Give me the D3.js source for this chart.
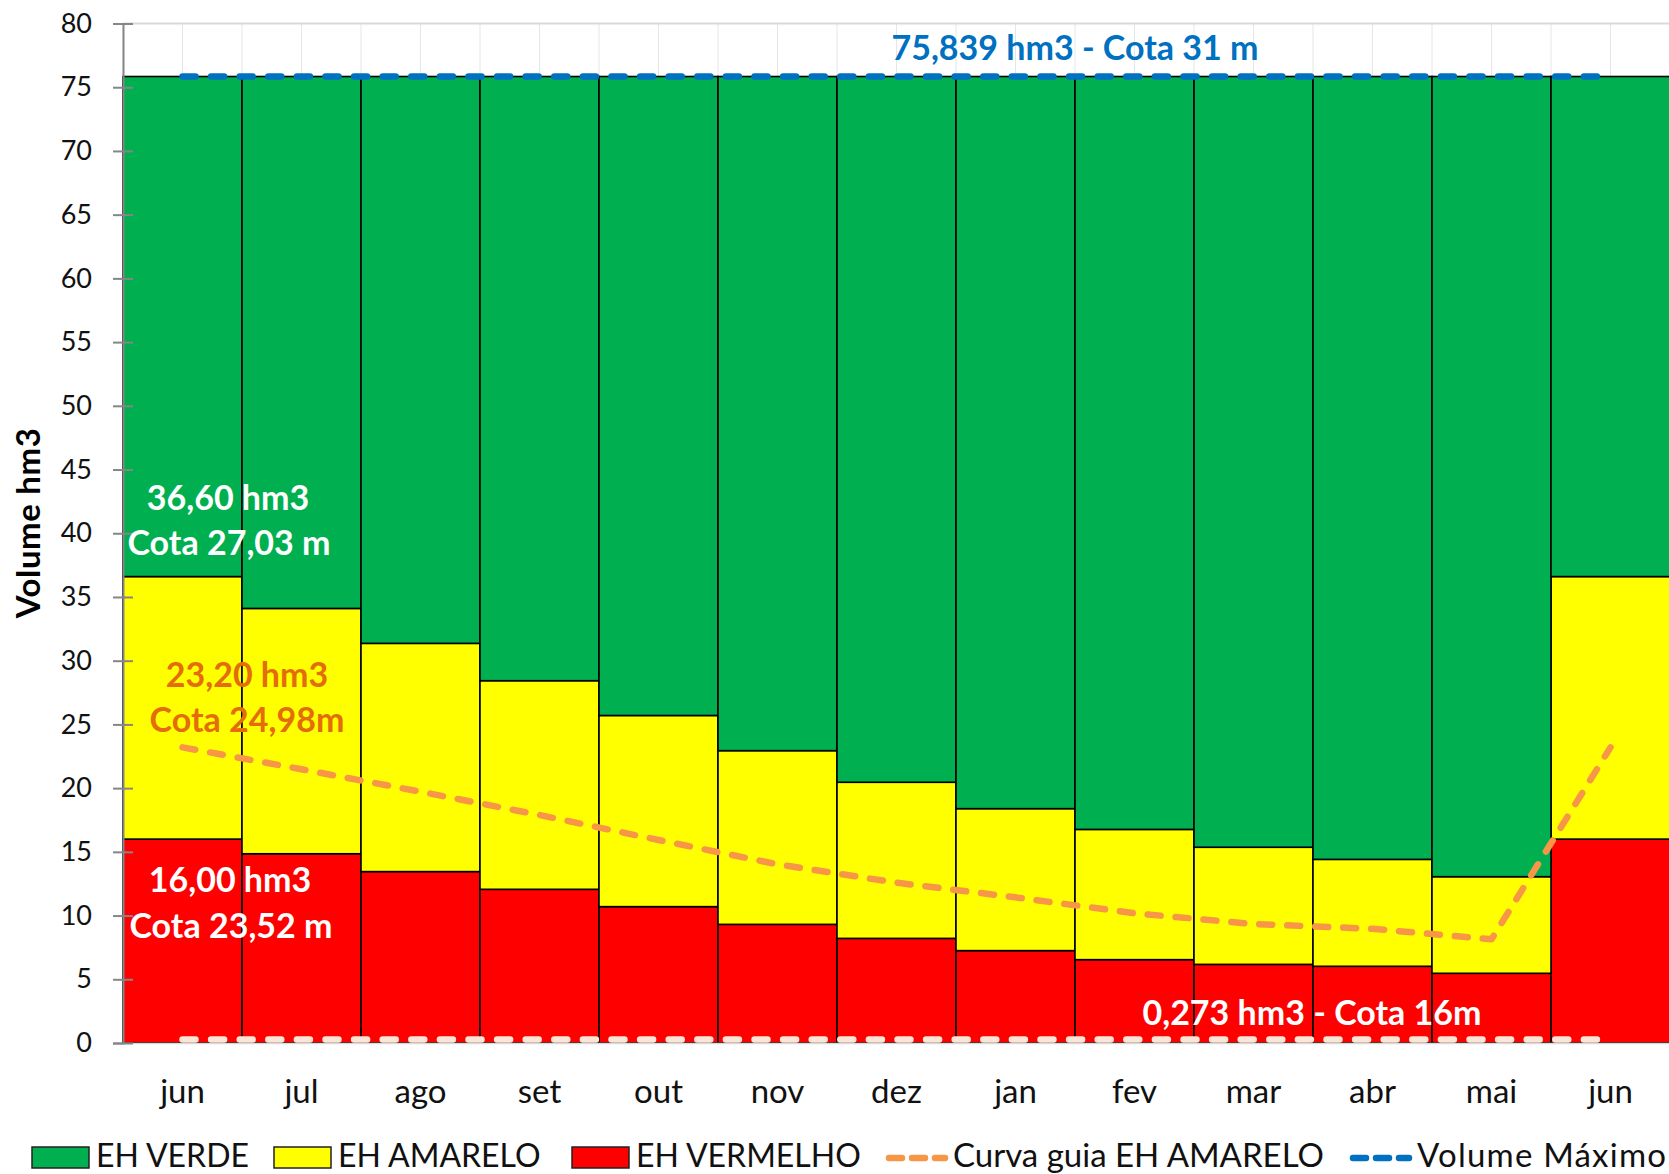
<!DOCTYPE html>
<html>
<head>
<meta charset="utf-8">
<script src="https://cdn.jsdelivr.net/npm/d3@7"></script>
<style>
  body{margin:0;background:#fff;}
  svg{display:block;font-family:Lato,'Open Sans',sans-serif;}
</style>
</head>
<body>
<svg id="chart" width="1669" height="1174"></svg>
<script>
// valores (hm3)
const meses = ['jun','jul','ago','set','out','nov','dez','jan','fev','mar','abr','mai','jun'];
const ehVermelho = [16.00, 14.85, 13.45, 12.06, 10.70, 9.31, 8.21, 7.25, 6.54, 6.17, 6.02, 5.47, 16.00];
const ehAmarelo  = [20.60, 19.25, 17.91, 16.37, 15.00, 13.63, 12.25, 11.14, 10.22, 9.19, 8.39, 7.58, 20.60];
const ehVerde    = [39.24, 41.74, 44.48, 47.41, 50.14, 52.90, 55.38, 57.45, 59.08, 60.48, 61.43, 62.79, 39.24];
const curvaGuia  = [23.20, 21.48, 19.72, 17.89, 15.93, 14.02, 12.58, 11.43, 10.18, 9.34, 8.96, 8.14, 23.20];
const volumeMaximo = 75.839;
const volumeMinimo = 0.273;
const yTicks = [0,5,10,15,20,25,30,35,40,45,50,55,60,65,70,75,80];

const cores = {verde:'#00B050', amarelo:'#FFFF00', vermelho:'#FF0000', curva:'#F79646', maximo:'#0070C0', minimo:'#FBE5D6'};

const svg = d3.select('#chart');
const margem = {esq:123, dir:1670, topo:23.5, base:1043};

let tabela = meses.map((m,i) => ({i:i, vermelho:ehVermelho[i], amarelo:ehAmarelo[i], verde:ehVerde[i]}));

let x = d3.scaleBand().domain(d3.range(meses.length)).range([margem.esq,margem.dir]).padding(0);
let y = d3.scaleLinear().domain([0,80]).range([margem.base,margem.topo]);
let bw = x.bandwidth();
let cx = i => x(i) + bw/2;

svg.append('rect').attr('width',1669).attr('height',1174).attr('fill','#fff');

// grade
let grade = svg.append('g');
grade.selectAll('line.v')
    .data(d3.range(meses.length*2))
    .enter().append('line')
    .attr('x1', k => margem.esq + k*bw/2).attr('x2', k => margem.esq + k*bw/2)
    .attr('y1', y(80)).attr('y2', margem.base)
    .attr('stroke','#e6e6e6').attr('stroke-width',1);
grade.append('line')
    .attr('x1',margem.esq).attr('x2',margem.dir).attr('y1',y(80)).attr('y2',y(80))
    .attr('stroke','#d9d9d9').attr('stroke-width',2);

// colunas empilhadas
let pilha = d3.stack().keys(['vermelho','amarelo','verde'])(tabela);
svg.append('g').selectAll('g')
    .data(pilha)
    .enter().append('g')
    .attr('fill', s => cores[s.key])
    .selectAll('rect')
    .data(s => s)
    .enter().append('rect')
    .attr('x', d => x(d.data.i))
    .attr('width', bw)
    .attr('y', d => y(d[1]))
    .attr('height', d => y(d[0]) - y(d[1]))
    .attr('stroke','#000').attr('stroke-width',1.6);

// eixo x
let eixoX = svg.append('g').attr('transform','translate(0,'+margem.base+')')
    .call(d3.axisBottom(x).tickSize(0).tickPadding(0).tickFormat(i => meses[i]));
eixoX.select('.domain').attr('stroke','#d9d9d9').attr('stroke-width',1.5);
eixoX.selectAll('text').attr('font-size',33).attr('fill','#111')
    .attr('font-family','Lato, sans-serif').attr('dy',null).attr('y',59.5);

// linhas de referencia
let ref = d3.line().x(d => cx(d[0])).y(d => y(d[1]));
svg.append('path')
    .datum([[0,volumeMinimo],[meses.length-1,volumeMinimo]])
    .attr('d',ref).attr('fill','none')
    .attr('stroke',cores.minimo).attr('stroke-width',6.5)
    .attr('stroke-linecap','round').attr('stroke-dasharray','13 15.6');
svg.append('path')
    .datum([[0,volumeMaximo],[meses.length-1,volumeMaximo]])
    .attr('d',ref).attr('fill','none')
    .attr('stroke',cores.maximo).attr('stroke-width',6.5)
    .attr('stroke-linecap','round').attr('stroke-dasharray','13 15.6');

// curva guia
let linha = d3.line().x((d,i) => cx(i)).y(d => y(d));
svg.append('path')
    .datum(curvaGuia)
    .attr('d',linha).attr('fill','none')
    .attr('stroke',cores.curva).attr('stroke-width',6.5)
    .attr('stroke-linecap','round').attr('stroke-linejoin','round')
    .attr('stroke-dasharray','13 15');

// eixo y
let eixoY = svg.append('g').attr('transform','translate('+margem.esq+',0)')
    .call(d3.axisLeft(y).tickValues(yTicks).tickSize(10).tickPadding(21));
eixoY.select('.domain').attr('stroke','#868686').attr('stroke-width',2);
eixoY.selectAll('.tick line').attr('x1',10).attr('stroke','#868686').attr('stroke-width',2);
eixoY.selectAll('text').attr('font-size',27).attr('fill','#111').attr('font-family','Lato, sans-serif');

svg.append('text')
    .attr('transform','translate(40,523) rotate(-90)')
    .attr('text-anchor','middle')
    .attr('font-size',33).attr('font-weight','bold').attr('fill','#000')
    .attr('letter-spacing',0.6)
    .text('Volume  hm3');

// rotulos
const rotulos = [
    {t:'36,60 hm3', x:228, y:510, c:'#fff'},
    {t:'Cota 27,03 m', x:229, y:555, c:'#fff'},
    {t:'23,20 hm3', x:247, y:687, c:'#E46C0A'},
    {t:'Cota 24,98m', x:247, y:732, c:'#E46C0A'},
    {t:'16,00 hm3', x:230, y:892, c:'#fff'},
    {t:'Cota 23,52 m', x:231, y:938, c:'#fff'},
    {t:'75,839 hm3 - Cota 31 m', x:1075, y:60, c:'#0070C0'},
    {t:'0,273 hm3 - Cota 16m', x:1312, y:1025, c:'#fff'}
];
svg.append('g').selectAll('text')
    .data(rotulos)
    .enter().append('text')
    .attr('x', d => d.x).attr('y', d => d.y)
    .attr('text-anchor','middle')
    .attr('font-size',34).attr('font-weight','bold')
    .attr('fill', d => d.c)
    .text(d => d.t);

// legenda
const legenda = [
    {nome:'EH VERDE', tipo:'rect', cor:cores.verde, x:32},
    {nome:'EH AMARELO', tipo:'rect', cor:cores.amarelo, x:274},
    {nome:'EH VERMELHO', tipo:'rect', cor:cores.vermelho, x:572},
    {nome:'Curva guia EH AMARELO', tipo:'line', cor:cores.curva, x:885},
    {nome:'Volume Máximo', tipo:'line', cor:cores.maximo, x:1349}
];
let leg = svg.append('g').selectAll('g')
    .data(legenda)
    .enter().append('g')
    .attr('transform', d => 'translate(' + d.x + ',1147)');
leg.filter(d => d.tipo == 'rect').append('rect')
    .attr('width',57).attr('height',21)
    .attr('fill', d => d.cor).attr('stroke','#222').attr('stroke-width',1.5);
leg.filter(d => d.tipo == 'line').append('line')
    .attr('x1',4).attr('x2',60).attr('y1',11).attr('y2',11)
    .attr('stroke', d => d.cor).attr('stroke-width',6.5)
    .attr('stroke-linecap','round').attr('stroke-dasharray','13 10');
leg.append('text')
    .attr('x', d => d.tipo == 'rect' ? 64 : 68)
    .attr('y',20)
    .attr('font-size', d => d.tipo == 'rect' ? 32 : 33).attr('fill','#111')
    .attr('letter-spacing', d => d.nome == 'Volume Máximo' ? 1.2 : 0)
    .text(d => d.nome);
</script>
</body>
</html>
